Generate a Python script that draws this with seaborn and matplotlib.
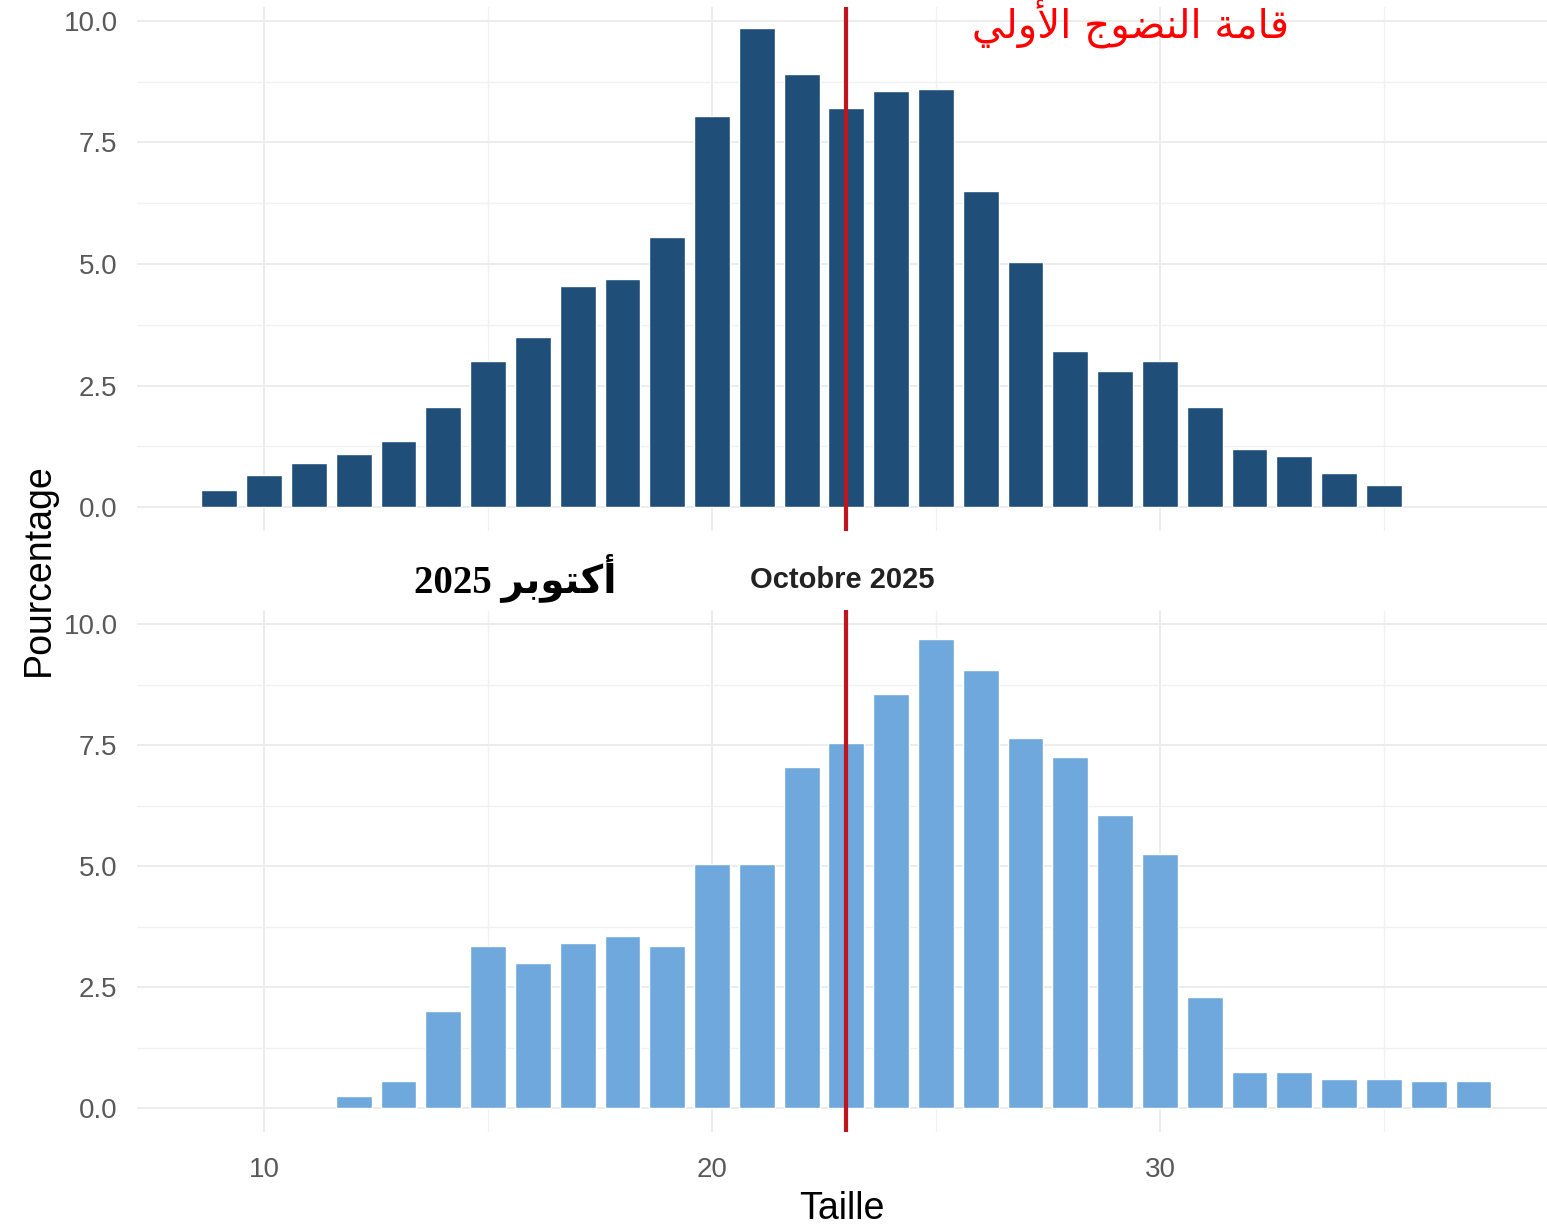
import numpy as np
import pandas as pd
import matplotlib
matplotlib.use('Agg')
import matplotlib.pyplot as plt
from matplotlib.ticker import MultipleLocator
import seaborn as sns

# data
taille_juin = [9, 10, 11, 12, 13, 14, 15, 16, 17, 18, 19, 20, 21, 22, 23, 24,
               25, 26, 27, 28, 29, 30, 31, 32, 33, 34, 35]
pct_juin = [0.35, 0.65, 0.9, 1.1, 1.35, 2.05, 3.0, 3.5, 4.55, 4.7, 5.55, 8.05,
            9.85, 8.9, 8.2, 8.55, 8.6, 6.5, 5.05, 3.2, 2.8, 3.0, 2.05, 1.2,
            1.05, 0.7, 0.45]

taille_oct = [12, 13, 14, 15, 16, 17, 18, 19, 20, 21, 22, 23, 24, 25, 26, 27,
              28, 29, 30, 31, 32, 33, 34, 35, 36, 37]
pct_oct = [0.25, 0.55, 2.0, 3.35, 3.0, 3.4, 3.55, 3.35, 5.05, 5.05, 7.05, 7.55,
           8.55, 9.7, 9.05, 7.65, 7.25, 6.05, 5.25, 2.3, 0.75, 0.75, 0.6, 0.6,
           0.55, 0.55]

taille_maturite = 23
titre_oct = 'Octobre 2025'
txt_oct_ar = '2025 \uFEAE\uFE91\uFEEE\uFE98\uFEDB\uFE83'
txt_maturite_ar = ('\uFEF2\uFEDF\uFEED\uFEF7\uFE8D '
                   '\uFE9D\uFEEE\uFEC0\uFEE8\uFEDF\uFE8D '
                   '\uFE94\uFEE3\uFE8E\uFED7')

juin = pd.DataFrame({'Taille': taille_juin, 'Pourcentage': pct_juin})
octo = pd.DataFrame({'Taille': taille_oct, 'Pourcentage': pct_oct})

sns.set_theme(style='whitegrid')
plt.rcParams['font.family'] = ['Liberation Sans', 'DejaVu Sans']

fig = plt.figure(figsize=(15.47, 12.26), dpi=100)
ax1 = fig.add_axes([0.0886, 0.567, 0.9114, 0.4274])
ax2 = fig.add_axes([0.0886, 0.0769, 0.9114, 0.4255])

for ax, df, col in [(ax1, juin, '#1F4E79'), (ax2, octo, '#6FA8DC')]:
    sns.barplot(data=df, x='Taille', y='Pourcentage', native_scale=True,
                color=col, saturation=1, width=0.8, ax=ax, zorder=2)
    ax.axvline(taille_maturite, color='#C0151C', lw=3, zorder=3)
    ax.set_xlim(7.165, 38.64)
    ax.set_ylim(-0.49, 10.29)
    ax.xaxis.set_major_locator(MultipleLocator(10))
    ax.xaxis.set_minor_locator(MultipleLocator(5))
    ax.yaxis.set_major_locator(MultipleLocator(2.5))
    ax.yaxis.set_minor_locator(MultipleLocator(1.25))
    ax.yaxis.set_major_formatter(matplotlib.ticker.FormatStrFormatter('%.1f'))
    ax.grid(which='major', color='#EBEBEB', lw=1.3)
    ax.grid(which='minor', color='#F1F1F1', lw=1.0)
    ax.set_axisbelow(True)
    for s in ax.spines.values():
        s.set_visible(False)
    ax.tick_params(which='both', length=0, labelsize=20, labelcolor='#595959')
    ax.tick_params(axis='y', pad=14)
    ax.tick_params(axis='x', pad=18)
    ax.set_xlabel('')
    ax.set_ylabel('')
    ax.set_facecolor('white')

ax1.tick_params(axis='x', labelbottom=False)
ax2.set_xlabel('Taille', fontsize=27, color='black', labelpad=6)
ax2.set_title(titre_oct, fontsize=21, fontweight='bold', color='#222222', pad=16)

fig.text(0.025, 0.535, 'Pourcentage', rotation=90, fontsize=27, color='black',
         ha='center', va='center')

fig.text(0.731, 0.980, txt_maturite_ar, color='#FF0000', fontsize=29,
         ha='center', va='center', family=['DejaVu Sans'])
fig.text(0.333, 0.529, txt_oct_ar, color='black', fontsize=28, fontweight='bold',
         ha='center', va='center', family=['Liberation Serif', 'DejaVu Sans'])

fig.savefig('out.png', dpi=100, facecolor='white')
